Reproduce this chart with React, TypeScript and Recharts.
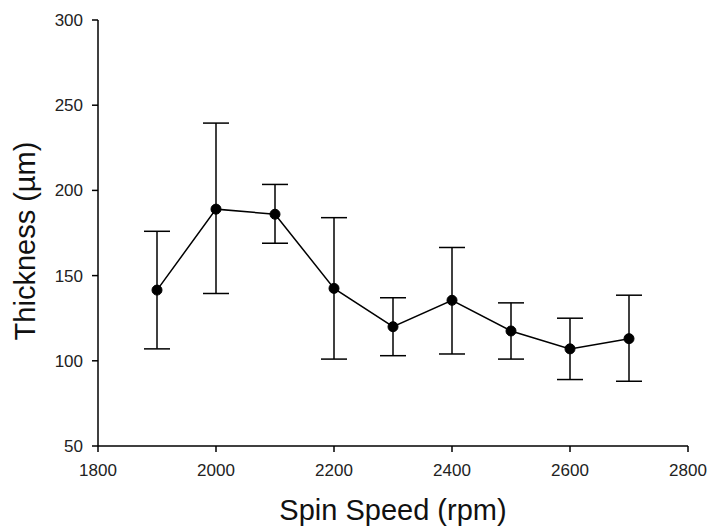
import { LineChart, Line, XAxis, YAxis, ErrorBar, Label } from 'recharts';

// spin speed (rpm)
const speeds = [1900, 2000, 2100, 2200, 2300, 2400, 2500, 2600, 2700];
// mean thickness (µm)
const thickness = [141.5, 189, 186, 142.5, 120, 135.5, 117.5, 107, 113];
// error bar ends
const upperEnd = [176, 239.5, 203.5, 184, 137, 166.5, 134, 125, 138.5];
const lowerEnd = [107, 139.5, 169, 101, 103, 104, 101, 89, 88];

const xTicks = [1800, 2000, 2200, 2400, 2600, 2800];
const yTicks = [50, 100, 150, 200, 250, 300];

const data = speeds.map((s, i) => ({
  speed: s,
  thickness: thickness[i],
  err: [thickness[i] - lowerEnd[i], upperEnd[i] - thickness[i]],
}));

const FONT = '"Liberation Sans", Arial, sans-serif';
const axisStyle = { stroke: '#000', strokeWidth: 1.5 };
const tickStyle = { fill: '#222', fontSize: 17, fontFamily: FONT };

export default function App() {
  return (
    <div style={{ position: 'absolute', left: 0, top: 0, background: '#fff' }}>
      <LineChart width={709} height={528} data={data} margin={{ top: 20, right: 21, bottom: 0, left: 0 }}>
        <XAxis
          dataKey="speed"
          type="number"
          domain={[1800, 2800]}
          ticks={xTicks}
          height={82}
          tickSize={6}
          tickMargin={12}
          axisLine={axisStyle}
          tickLine={axisStyle}
          tick={tickStyle}
        >
          <Label
            content={({ viewBox }: any) => (
              <text
                x={viewBox.x + viewBox.width / 2}
                y={viewBox.y + 74}
                textAnchor="middle"
                fontSize={29}
                fontFamily={FONT}
                fill="#111"
              >
                Spin Speed (rpm)
              </text>
            )}
          />
        </XAxis>
        <XAxis xAxisId="top" orientation="top" type="number" domain={[1800, 2800]} height={0} tick={false} tickLine={false} axisLine={{ stroke: '#333', strokeWidth: 1.5 }} />
        <YAxis
          type="number"
          domain={[50, 300]}
          ticks={yTicks}
          width={98}
          tickSize={6}
          tickMargin={9}
          axisLine={axisStyle}
          tickLine={axisStyle}
          tick={tickStyle}
        >
          <Label
            content={({ viewBox }: any) => {
              const cx = 35;
              const cy = viewBox.y + viewBox.height / 2 + 8;
              return (
                <text
                  x={cx}
                  y={cy}
                  transform={`rotate(-90, ${cx}, ${cy})`}
                  textAnchor="middle"
                  fontSize={29}
                  fontFamily={FONT}
                  fill="#111"
                >
                  Thickness (µm)
                </text>
              );
            }}
          />
        </YAxis>
        <YAxis yAxisId="right" orientation="right" type="number" domain={[50, 300]} width={0} tick={false} tickLine={false} axisLine={{ stroke: '#333', strokeWidth: 1.5 }} />
        <Line
          dataKey="thickness"
          stroke="#000"
          strokeWidth={1.5}
          dot={{ r: 5, fill: '#000', stroke: '#000', strokeWidth: 1 }}
          activeDot={false}
          isAnimationActive={false}
        >
          <ErrorBar dataKey="err" direction="y" width={13} stroke="#000" strokeWidth={1.5} isAnimationActive={false} />
        </Line>
      </LineChart>
    </div>
  );
}
